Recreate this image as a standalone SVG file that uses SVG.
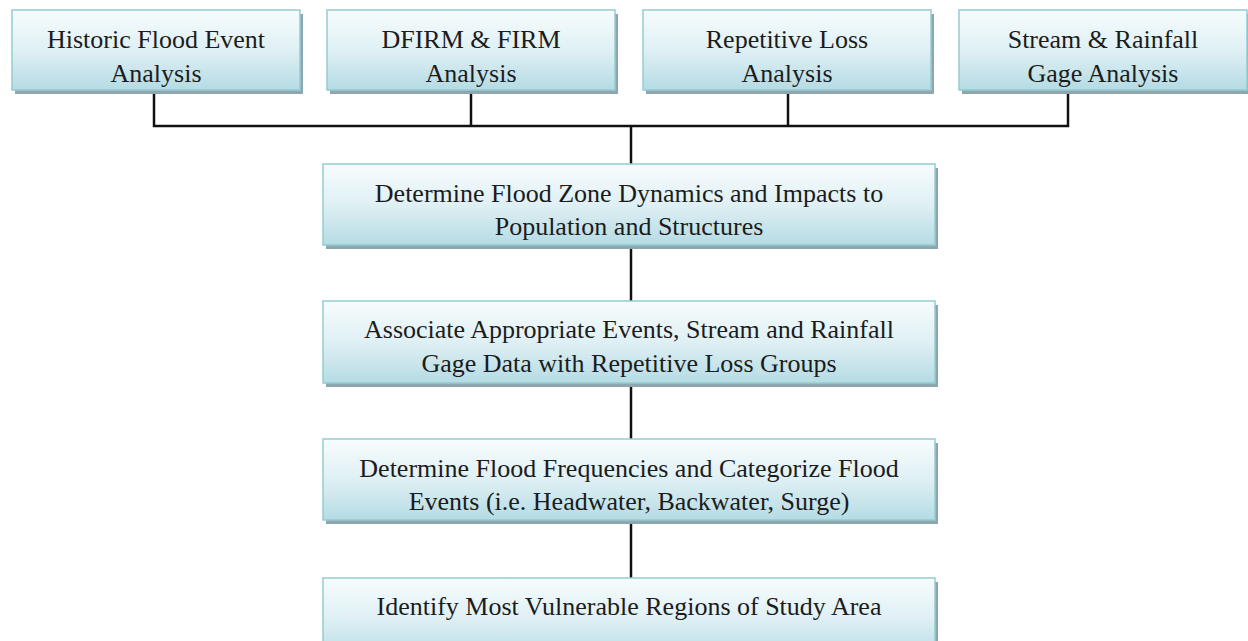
<svg xmlns="http://www.w3.org/2000/svg" width="1248" height="641" viewBox="0 0 1248 641">
<defs>
<linearGradient id="g" x1="0" y1="0" x2="0" y2="1">
<stop offset="0" stop-color="#f7fcfd"/>
<stop offset="0.5" stop-color="#dff0f4"/>
<stop offset="1" stop-color="#b5dbe4"/>
</linearGradient>
</defs>
<style>
.sh{fill:#8ea6b0}
.bx{fill:url(#g);stroke:#94cdd1;stroke-width:1.5}
.t{font-family:"Liberation Serif","Times New Roman",serif;font-size:26px;fill:#1c1c1c;text-anchor:middle}
.c{fill:none;stroke:#111;stroke-width:2.5}
</style>
<rect width="1248" height="641" fill="#fff"/>
<g id="connectors">
<polyline class="c" points="154,90 154,126 1068,126 1068,90"/>
<line class="c" x1="471" y1="90" x2="471" y2="126"/>
<line class="c" x1="788" y1="90" x2="788" y2="126"/>
<line class="c" x1="631" y1="126" x2="631" y2="164"/>
<line class="c" x1="631" y1="245" x2="631" y2="301"/>
<line class="c" x1="631" y1="383" x2="631" y2="439"/>
<line class="c" x1="631" y1="520" x2="631" y2="578"/>
</g>
<g id="n1">
<rect class="sh" x="15" y="14" width="288" height="80"/>
<rect class="bx" x="12" y="10" width="288" height="80"/>
<text class="t" x="156" y="48">Historic Flood Event</text>
<text class="t" x="156" y="82">Analysis</text>
</g>
<g id="n2">
<rect class="sh" x="330" y="14" width="288" height="80"/>
<rect class="bx" x="327" y="10" width="288" height="80"/>
<text class="t" x="471" y="48">DFIRM &amp; FIRM</text>
<text class="t" x="471" y="82">Analysis</text>
</g>
<g id="n3">
<rect class="sh" x="646" y="14" width="288" height="80"/>
<rect class="bx" x="643" y="10" width="288" height="80"/>
<text class="t" x="787" y="48">Repetitive Loss</text>
<text class="t" x="787" y="82">Analysis</text>
</g>
<g id="n4">
<rect class="sh" x="962" y="14" width="288" height="80"/>
<rect class="bx" x="959" y="10" width="288" height="80"/>
<text class="t" x="1103" y="48">Stream &amp; Rainfall</text>
<text class="t" x="1103" y="82">Gage Analysis</text>
</g>
<g id="n5">
<rect class="sh" x="326" y="168" width="612" height="81"/>
<rect class="bx" x="323" y="164" width="612" height="81"/>
<text class="t" x="629" y="202">Determine Flood Zone Dynamics and Impacts to</text>
<text class="t" x="629" y="235">Population and Structures</text>
</g>
<g id="n6">
<rect class="sh" x="326" y="305" width="612" height="82"/>
<rect class="bx" x="323" y="301" width="612" height="82"/>
<text class="t" x="629" y="338">Associate Appropriate Events, Stream and Rainfall</text>
<text class="t" x="629" y="372">Gage Data with Repetitive Loss Groups</text>
</g>
<g id="n7">
<rect class="sh" x="326" y="443" width="612" height="81"/>
<rect class="bx" x="323" y="439" width="612" height="81"/>
<text class="t" x="629" y="477">Determine Flood Frequencies and Categorize Flood</text>
<text class="t" x="629" y="510">Events (i.e. Headwater, Backwater, Surge)</text>
</g>
<g id="n8">
<rect class="sh" x="326" y="582" width="612" height="81"/>
<rect class="bx" x="323" y="578" width="612" height="81"/>
<text class="t" x="629" y="615">Identify Most Vulnerable Regions of Study Area</text>
</g>
</svg>
